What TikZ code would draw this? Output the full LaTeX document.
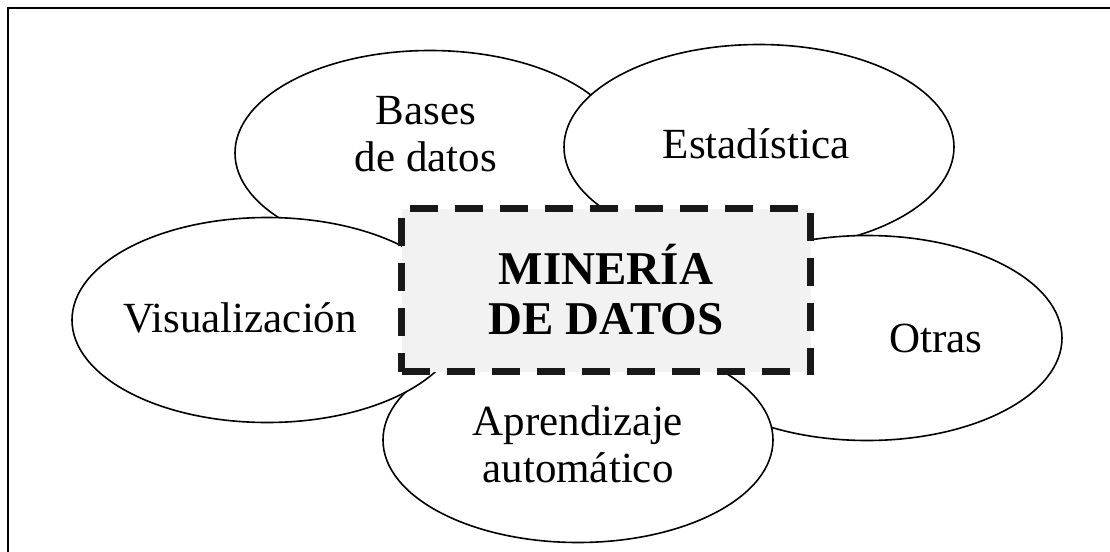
\documentclass[tikz,border=0pt]{standalone}
\usepackage{fontspec}
\setmainfont{Liberation Serif}
\usepackage{tikz}
\usetikzlibrary{shapes.geometric}

\tikzset{
  blob/.style={draw, fill=white, ellipse, line width=0.8pt, inner sep=0pt,
    minimum width=195pt, minimum height=102.5pt},
  lbl/.style={align=center, font=\fontsize{21.5}{23.5}\selectfont},
  mbox/.style={draw=black!90, fill=gray!10, line width=3.5pt, inner sep=0pt,
    dash pattern=on 14pt off 8.5pt, minimum width=204.5pt, minimum height=81.5pt,
    align=center, font=\fontsize{23.5}{25}\selectfont\bfseries}
}

\begin{document}
\begin{tikzpicture}[x=0.5pt, y=-0.5pt]

\clip (0,0) rectangle (1110,552);

% marco
\draw[line width=1pt] (8,8) rectangle (1250,700);

% elipses, de abajo hacia arriba
\foreach \n/\x/\y in {bases/430/153, esta/759/147, otras/867/338, apre/578/440, visu/267/320}
    \node[blob] (\n) at (\x,\y) {};

\node[lbl] (tbases) at (426,134) {Bases\\de datos};
\node[lbl, anchor=base] (testa) at (756,158) {Estadística};
\node[lbl, anchor=base] (totras) at (936,352) {Otras};
\node[lbl] (tapre) at (578,444) {Aprendizaje\\automático};
\node[lbl, anchor=base] (tvisu) at (240,332) {Visualización};

\node[mbox] (mineria) at (606,290) {MINERÍA\\DE DATOS};

\end{tikzpicture}
\end{document}
